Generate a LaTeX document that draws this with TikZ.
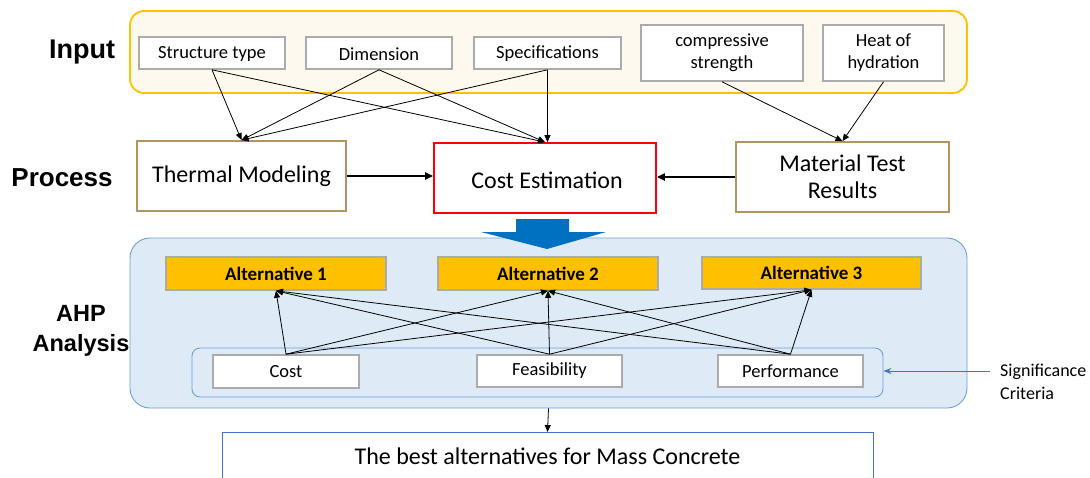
\documentclass[tikz,border=0pt]{standalone}
\usepackage{fontspec}
\setmainfont{Carlito}
\newfontfamily\labfont{Liberation Sans}
\usetikzlibrary{arrows.meta}
\definecolor{inborder}{HTML}{FFC000}
\definecolor{infill}{HTML}{FEF9EE}
\definecolor{ahpfill}{HTML}{DEEBF7}
\definecolor{ahpborder}{HTML}{6A9FD8}
\definecolor{altfill}{HTML}{FFC000}
\definecolor{boxgray}{HTML}{ABABAB}
\definecolor{tan}{HTML}{B3935F}
\definecolor{bluearrow}{HTML}{0070C0}
\definecolor{sigblue}{HTML}{4472C4}
\tikzset{
  graybox/.style={draw=boxgray, line width=1.6pt, fill=white, inner sep=0pt, align=center, font=\fontsize{18.5}{22}\selectfont},
  procbox/.style={draw=tan, line width=1.8pt, fill=white, inner sep=0pt, align=center, font=\fontsize{24}{27}\selectfont},
  altbox/.style={draw=boxgray, line width=1.6pt, fill=altfill, inner sep=0pt, font=\fontsize{19}{22}\selectfont\bfseries},
  critbox/.style={draw=boxgray, line width=1.6pt, fill=white, inner sep=0pt, font=\fontsize{18.5}{22}\selectfont},
  lab/.style={font=\labfont\bfseries, align=center},
  thin/.style={black, line width=0.8pt, -{Triangle[length=7pt,width=6pt]}},
  thick/.style={black, line width=2pt, -{Triangle[length=8pt,width=7pt]}},
}
\begin{document}
\begin{tikzpicture}[x=1pt,y=-1pt]
\useasboundingbox (0,0) rectangle (1090,477);
\clip (0,0) rectangle (1090,477);

% Input group
\node[draw=inborder, fill=infill, line width=1.8pt, rounded corners=14pt, minimum width=837pt, minimum height=82pt, inner sep=0pt] (inbox) at (548.5,52) {};
\node[lab, font=\labfont\bfseries\fontsize{27}{30}\selectfont] (linput) at (82,52) {Input};
\node[graybox, minimum width=146pt, minimum height=32pt] (st) at (212,53) {};
\node[font=\fontsize{18.5}{22}\selectfont, inner sep=0pt] (stt) at (212,54) {Structure type};
\node[graybox, minimum width=146pt, minimum height=32pt] (dim) at (379,53) {};
\node[font=\fontsize{18.5}{22}\selectfont, inner sep=0pt] (dimt) at (379,54) {Dimension};
\node[graybox, minimum width=147pt, minimum height=32pt] (spec) at (547.5,53) {};
\node[font=\fontsize{18.5}{22}\selectfont, inner sep=0pt] (spect) at (547.5,54) {Specifications};
\node[graybox, minimum width=162pt, minimum height=56pt] (cs) at (722,53) {compressive\\strength};
\node[graybox, minimum width=121pt, minimum height=56pt] (hh) at (883.5,53) {Heat of\\hydration};

% Process
\node[lab, font=\labfont\bfseries\fontsize{26}{30}\selectfont] (lprocess) at (62,178) {Process};
\node[procbox, minimum width=209pt, minimum height=70pt] (th) at (241.5,176) {Thermal Modeling};
\node[procbox, draw=red, minimum width=222pt, minimum height=70pt] (ce) at (545,178) {};
\node[font=\fontsize{24}{27}\selectfont, inner sep=0pt] (cet) at (547,180) {Cost Estimation};
\node[procbox, minimum width=213pt, minimum height=70pt] (mt) at (842.5,177) {Material Test\\Results};

\draw[thin] (st.south) -- (th.north);
\draw[thin] (st.south) -- (ce.north);
\draw[thin] (dim.south) -- (th.north);
\draw[thin] (dim.south) -- (ce.north);
\draw[thin] (spec.south) -- (th.north);
\draw[thin] (spec.south) -- (spec.south |- ce.north);
\draw[thin] (cs.south) -- (mt.north);
\draw[thin] (hh.south) -- (mt.north);

\draw[thick] (th.east) -- (ce.west |- th.east);
\draw[thick] (mt.west) -- (ce.east |- mt.west);

% AHP group
\node[draw=ahpborder, fill=ahpfill, line width=0.9pt, rounded corners=20pt, minimum width=837pt, minimum height=170pt, inner sep=0pt] (ahp) at (548.5,323) {};
\node[lab, font=\labfont\bfseries\fontsize{23.5}{30}\selectfont] (lahp) at (81,331) {AHP\\Analysis};

% block arrow
\fill[bluearrow] (516,219) -- (569,219) -- (569,232) -- (606,232) -- (547,249) -- (481,232) -- (516,232) -- cycle;

\node[altbox, minimum width=220pt, minimum height=33pt] (a1) at (276,273.5) {Alternative 1};
\node[altbox, minimum width=220pt, minimum height=33pt] (a2) at (548,273.5) {Alternative 2};
\node[altbox, minimum width=219pt, minimum height=32pt] (a3) at (811.5,273) {Alternative 3};

\node[draw=ahpborder, line width=0.9pt, rounded corners=8pt, minimum width=691pt, minimum height=49pt, inner sep=0pt] (crit) at (537.5,372.5) {};
\node[critbox, minimum width=146pt, minimum height=33pt] (cost) at (286,371.5) {Cost};
\node[critbox, minimum width=145pt, minimum height=32pt] (feas) at (549.5,371) {Feasibility};
\node[critbox, minimum width=145pt, minimum height=32pt] (perf) at (790.5,371) {Performance};

\foreach \s in {cost,feas,perf}{
  \foreach \t in {a1,a2,a3}{
    \draw[thin] (\s.north) -- (\t.south);
  }
}

\node[anchor=west, align=left, inner sep=0pt, font=\fontsize{18}{23}\selectfont] (sig) at (1000,382) {Significance\\Criteria};
\coordinate (sigstart) at (990,371);
\draw[sigblue, line width=0.9pt, -{Stealth[length=8pt,width=6pt]}] (sigstart) -- (crit.east |- sigstart);

% Result
\node[draw=sigblue, line width=0.9pt, fill=white, minimum width=651pt, minimum height=70pt, inner sep=0pt, anchor=north] (best) at (547.5,432) {};
\node[font=\fontsize{24}{27}\selectfont, inner sep=0pt] (besttext) at (547.5,456) {The best alternatives for Mass Concrete};
\draw[thin] (ahp.south) -- (best.north);
\end{tikzpicture}
\end{document}
